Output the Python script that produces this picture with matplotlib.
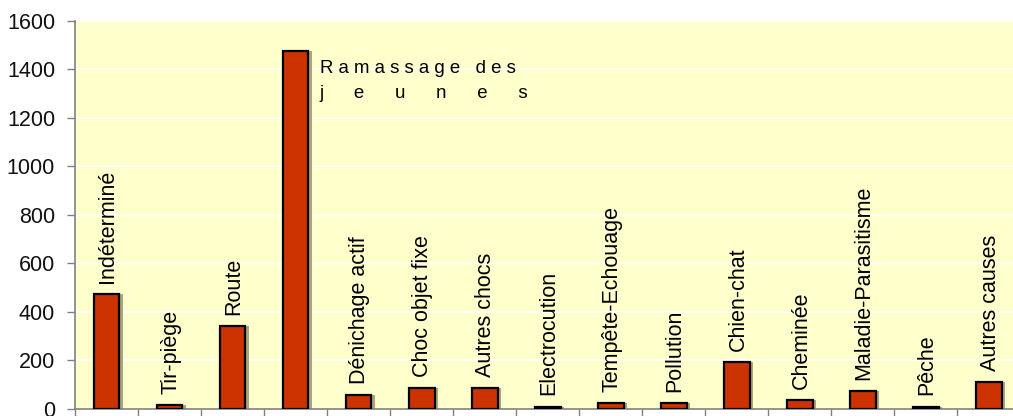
import numpy as np
import matplotlib
matplotlib.use("Agg")
import matplotlib.pyplot as plt

plt.rcParams['font.family'] = ['Liberation Sans', 'DejaVu Sans']

# data
causes = ["Indéterminé", "Tir-piège", "Route", "Ramassage des jeunes",
          "Dénichage actif", "Choc objet fixe", "Autres chocs", "Electrocution",
          "Tempête-Echouage", "Pollution", "Chien-chat", "Cheminée",
          "Maladie-Parasitisme", "Pêche", "Autres causes"]
counts = [475, 18, 342, 1476, 56, 85, 85, 10, 23, 23, 195, 36, 74, 10, 111]
yticks = [0, 200, 400, 600, 800, 1000, 1200, 1400, 1600]

bar_color = "#CC3300"
bg_color = "#FFFFCC"

fig = plt.figure(figsize=(10.13, 4.16), dpi=100)
ax = fig.add_axes([0.074, 0.0168, 0.9332, 0.9335])
ax.set_facecolor(bg_color)

x = np.arange(len(causes))
w = 0.41

# shadow then bars
ax.bar(x + 0.05, counts, width=w, color="#A9A57C", zorder=2)
ax.bar(x, counts, width=w, color=bar_color, edgecolor="black", linewidth=1.6, zorder=3)

ax.set_ylim(0, 1600)
ax.set_xlim(-0.5, len(causes) - 0.5)
ax.set_yticks(yticks)
ax.set_yticklabels([str(v) for v in yticks])
ax.set_xticks(np.arange(len(causes) + 1) - 0.5)
ax.set_xticklabels([])
ax.tick_params(axis="both", direction="out", length=5.8, color="#808080", width=1)
ax.tick_params(axis="y", pad=8.5, labelsize=15.5, labelcolor="#111111")
ax.yaxis.grid(True, color="white", linewidth=1.2, zorder=1)
ax.set_axisbelow(True)

for s in ["top", "right"]:
    ax.spines[s].set_visible(False)
for s in ["left", "bottom"]:
    ax.spines[s].set_color("#808080")
    ax.spines[s].set_linewidth(1.2)

# rotated labels above the bars
for i, (name, v) in enumerate(zip(causes, counts)):
    if i == 3:
        continue
    ax.annotate(name, (i, v), xytext=(1, 8), textcoords="offset points",
                rotation=90, ha="center", va="bottom", fontsize=15.5, zorder=4)

# the long one sits to the right of its bar, letter-spaced on two lines
ax.annotate("R a m a s s a g e   d e s", (3 + w / 2, counts[3]), xytext=(8, -7),
            textcoords="offset points", ha="left", va="top", fontsize=13.4, zorder=4)
ax.annotate("j      e      u      n      e      s", (3 + w / 2, counts[3]), xytext=(8, -25),
            textcoords="offset points", ha="left", va="top", fontsize=13.4, zorder=4)

fig.savefig("out.png", dpi=100)
